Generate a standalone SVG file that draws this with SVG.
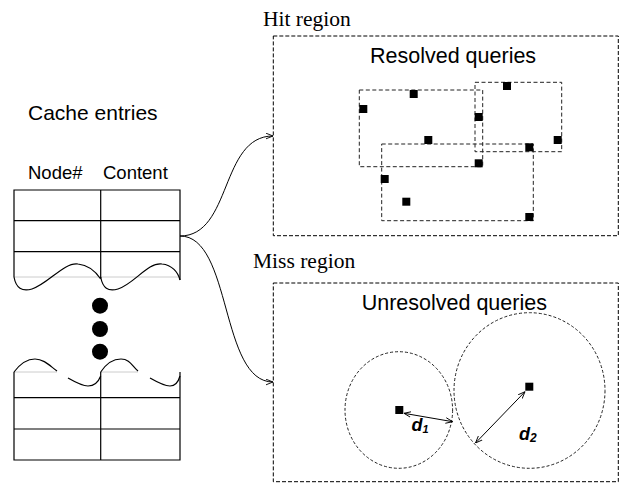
<svg xmlns="http://www.w3.org/2000/svg" width="620" height="483" viewBox="0 0 620 483">
<style>
.sans{font-family:"Liberation Sans",Arial,sans-serif;fill:#000}
.serif{font-family:"Liberation Serif","Times New Roman",serif;fill:#000}
.ln{stroke:#000;stroke-width:1.2;fill:none}
.wave{stroke:#000;stroke-width:1.2;fill:none}
.faint{stroke:#ccc;stroke-width:1;fill:none}
.region{stroke:#000;stroke-width:1;fill:none;stroke-dasharray:4 2}
.qrect{stroke:#222;stroke-width:1;fill:none;stroke-dasharray:4 2.5}
.circ{stroke:#222;stroke-width:1;fill:none;stroke-dasharray:3 2}
.pt{fill:#000}
.conn{stroke:#000;stroke-width:1;fill:none}
.dim{font-family:"Liberation Sans",Arial,sans-serif;font-weight:bold;font-style:italic;fill:#000}
</style>
<defs>
<marker id="arr" viewBox="0 0 10 10" refX="10" refY="5" markerWidth="7" markerHeight="7" orient="auto-start-reverse" markerUnits="userSpaceOnUse">
<path d="M0,1 L10,5 L0,9" fill="none" stroke="#000" stroke-width="1.3"/>
</marker>
</defs>
<rect width="620" height="483" fill="#fff"/>

<g id="cache-title"><text class="sans" x="28" y="120" font-size="21">Cache entries</text></g>

<g id="cache-table-top">
<text class="sans" x="28" y="179" font-size="18.5">Node#</text>
<text class="sans" x="103" y="179" font-size="18.5">Content</text>
<line class="faint" x1="14" y1="277" x2="180" y2="277"/>
<path class="ln" d="M14,277 L14,190 L180,190 L180,280 M100.7,190 L100.7,278 M14,220.7 L180,220.7 M14,251.7 L180,251.7"/>
<path class="wave" d="M14,277 C16,288 22,292 32,289 C48,284 64,262 78,264 C88,265 96,272 100.7,279"/>
<path class="wave" d="M100.7,277 C102.7,288 108,292 118,289 C134,284 148,262 162,264 C172,265 178,272 180,280"/>
</g>

<g id="ellipsis">
<circle class="pt" cx="100" cy="305.7" r="8"/>
<circle class="pt" cx="100" cy="329" r="8"/>
<circle class="pt" cx="100" cy="351.7" r="8"/>
</g>

<g id="cache-table-bottom">
<line class="faint" x1="14" y1="372" x2="57" y2="372"/>
<line class="faint" x1="100.7" y1="372" x2="138" y2="372"/>
<path class="ln" d="M14,372 L14,460 L180,460 L180,372 M100.7,372 L100.7,460 M14,397.7 L180,397.7 M14,429 L180,429"/>
<path class="wave" d="M14,372 C20,364 27,359 35,359 C44,359 50,366 57,371"/>
<path class="wave" d="M68,378 C75,382 82,386 88,386 C94,386 98,383 100.7,376"/>
<path class="wave" d="M100.7,372 C106,364 113,359 121,359 C130,359 132,366 138,371"/>
<path class="wave" d="M150,378 C157,382 164,386 170,386 C175,386 178,383 180,376"/>
</g>

<g id="hit-region">
<text class="serif" x="263" y="26" font-size="21.5">Hit region</text>
<rect class="region" x="273.3" y="36" width="345" height="199.7"/>
<text class="sans" x="370" y="63" font-size="21.5">Resolved queries</text>
<rect class="qrect" x="359.3" y="90" width="123.4" height="76.7"/>
<rect class="qrect" x="475" y="82.3" width="86.7" height="69.4"/>
<rect class="qrect" x="381.7" y="144" width="151.6" height="76.7"/>
<g>
<rect class="pt" x="359.3" y="105" width="8" height="8"/>
<rect class="pt" x="409.7" y="90" width="8" height="8"/>
<rect class="pt" x="424.3" y="136" width="8" height="8"/>
<rect class="pt" x="503" y="82" width="8" height="8"/>
<rect class="pt" x="474.7" y="113" width="8" height="8"/>
<rect class="pt" x="553.7" y="136" width="8" height="8"/>
<rect class="pt" x="525.3" y="143.3" width="8" height="8"/>
<rect class="pt" x="474.7" y="159.3" width="8" height="8"/>
<rect class="pt" x="380.7" y="175" width="8" height="8"/>
<rect class="pt" x="402.3" y="197.7" width="8" height="8"/>
<rect class="pt" x="525.3" y="213" width="8" height="8"/>
</g>
</g>

<g id="miss-region">
<text class="serif" x="253" y="268" font-size="21.5">Miss region</text>
<rect class="region" x="273.3" y="283" width="345" height="198.7"/>
<text class="sans" x="361.7" y="310" font-size="21.5">Unresolved queries</text>
<ellipse class="circ" cx="398.8" cy="410" rx="53.8" ry="58.3"/>
<ellipse class="circ" cx="529.5" cy="390.5" rx="75.5" ry="77.8"/>
<rect class="pt" x="395.3" y="406" width="8" height="8"/>
<rect class="pt" x="525.3" y="382.7" width="8" height="8"/>
<line class="conn" x1="404" y1="413.3" x2="452.7" y2="421.7" marker-start="url(#arr)" marker-end="url(#arr)"/>
<line class="conn" x1="525" y1="391.7" x2="475.5" y2="443" marker-start="url(#arr)" marker-end="url(#arr)"/>
<text class="dim" x="411.5" y="431" font-size="18">d<tspan font-size="11" dy="1.5">1</tspan></text>
<text class="dim" x="519" y="440" font-size="18">d<tspan font-size="12" dy="1.5">2</tspan></text>
</g>

<g id="connectors">
<path class="conn" d="M180,236 C232,236 220,136 273,136" marker-end="url(#arr)"/>
<path class="conn" d="M180,236 C232,236 220,382 273,382" marker-end="url(#arr)"/>
</g>
</svg>
